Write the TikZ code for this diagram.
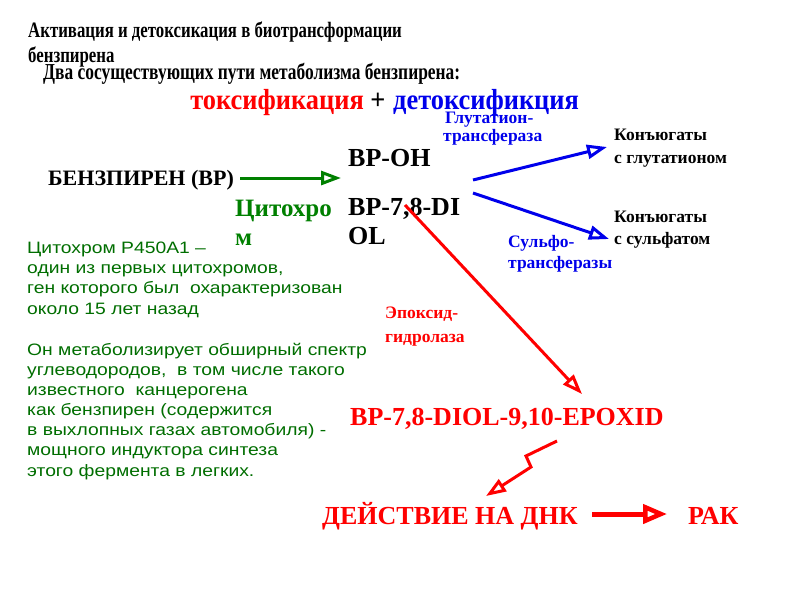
\documentclass[tikz,border=0pt]{standalone}
\usepackage{fontspec}
\setmainfont{Liberation Serif}
\newfontfamily\paraf[FakeStretch=1.17]{Liberation Sans}
\newfontfamily\titlef[FakeStretch=0.764]{Liberation Serif}
\newfontfamily\subf[FakeStretch=0.91]{Liberation Serif}
\usetikzlibrary{arrows.meta}
\definecolor{rd}{RGB}{255,0,0}
\definecolor{bl}{RGB}{0,0,235}
\definecolor{gr}{RGB}{0,128,0}
\definecolor{gt}{RGB}{0,110,0}
\tikzset{
  txt/.style={inner sep=0pt, anchor=base west},
  head/.style={txt, font=\titlef\bfseries\fontsize{22}{22}\selectfont},
  sub/.style={txt, font=\subf\bfseries\fontsize{29}{29}\selectfont},
  big/.style={txt, font=\bfseries\fontsize{26}{26}\selectfont},
  small/.style={txt, font=\bfseries\fontsize{17.5}{17.5}\selectfont},
  para/.style={inner sep=0pt, font=\paraf\fontsize{16.5}{20.1}\selectfont, text=gt, align=left, anchor=north west},
  arr/.style={line width=3pt, -{Triangle[open,length=20pt,width=14pt,line width=3pt]}},
}
\begin{document}
\begin{tikzpicture}[x=1pt,y=-1pt]
\useasboundingbox (0,0) rectangle (800,600);
\fill[white] (0,0) rectangle (800,600);
% titles
\node[head] (t1) at (28,37) {Активация и детоксикация в биотрансформации};
\node[head] (t2) at (28,62) {бензпирена};
\node[head, font=\titlef\bfseries\fontsize{22.8}{22.8}\selectfont] (t3) at (43,79) {Два сосуществующих пути метаболизма бензпирена:};
\node[sub, anchor=base east, text=rd] (t4) at (364,109) {токсификация};
\node[sub, anchor=base] (plus) at (378,109) {+};
\node[sub, text=bl] (t5) at (393,109) {детоксификция};
% enzyme labels
\node[small, text=bl] (gst1) at (445,123) {Глутатион-};
\node[small, text=bl] (gst2) at (443,141) {трансфераза};
\node[small, text=bl] (sul1) at (508,247) {Сульфо-};
\node[small, text=bl] (sul2) at (508,268) {трансферазы};
\node[small, text=rd] (eph1) at (385,318) {Эпоксид-};
\node[small, text=rd] (eph2) at (385,342) {гидролаза};
% main nodes
\node[txt, font=\bfseries\fontsize{22}{22}\selectfont] (bp) at (48,185) {БЕНЗПИРЕН (BP)};
\node[big] (bpoh) at (348,166) {BP-OH};
\node[big] (diol1) at (348,215) {BP-7,8-DI};
\node[big] (diol2) at (348,244) {OL};
\node[txt, text=gr, font=\bfseries\fontsize{25}{25}\selectfont] (cyt1) at (235,216) {Цитохро};
\node[txt, text=gr, font=\bfseries\fontsize{25}{25}\selectfont] (cyt2) at (235,245) {м};
\node[small] (cg1) at (614,140) {Конъюгаты};
\node[small] (cg2) at (614,163) {с глутатионом};
\node[small] (cs1) at (614,222) {Конъюгаты};
\node[small] (cs2) at (614,244) {с сульфатом};
\node[big, text=rd] (epox) at (350,425) {BP-7,8-DIOL-9,10-EPOXID};
\node[big, text=rd] (dna) at (322,524) {ДЕЙСТВИЕ НА ДНК};
\node[big, text=rd] (cancer) at (688,524) {РАК};
% paragraph
\node[para] (p) at (27,242) {Цитохром P450A1 –\\один из первых цитохромов,\\ген которого был\ \ охарактеризован\\около 15 лет назад\\[21.3pt]Он метаболизирует обширный спектр\\углеводородов,\ \ в том числе такого\\известного\ \ канцерогена\\как бензпирен (содержится\\в выхлопных газах автомобиля) -\\мощного индуктора синтеза\\этого фермента в легких.};
% coordinates
\coordinate (g1) at (240,178);
\coordinate (g2) at (341,178);
\coordinate (b1s) at (473,180);
\coordinate (b1e) at (607,147);
\coordinate (b2s) at (473,193);
\coordinate (b2e) at (609,239);
\coordinate (r1s) at (405,205);
\coordinate (r1e) at (582,394);
\coordinate (z1) at (557,441);
\coordinate (z2) at (526,456);
\coordinate (z3) at (531,467);
\coordinate (z4) at (486,496);
\coordinate (k1) at (592,514);
\coordinate (k2) at (667,514);
% arrows
\draw[arr, gr] (g1) -- (g2);
\draw[arr, bl] (b1s) -- (b1e);
\draw[arr, bl] (b2s) -- (b2e);
\draw[arr, rd] (r1s) -- (r1e);
\draw[arr, rd] (z1) -- (z2) -- (z3) -- (z4);
\draw[rd, line width=5pt, -{Triangle[open,length=24pt,width=19pt,line width=4.5pt]}] (k1) -- (k2);
\end{tikzpicture}
\end{document}
